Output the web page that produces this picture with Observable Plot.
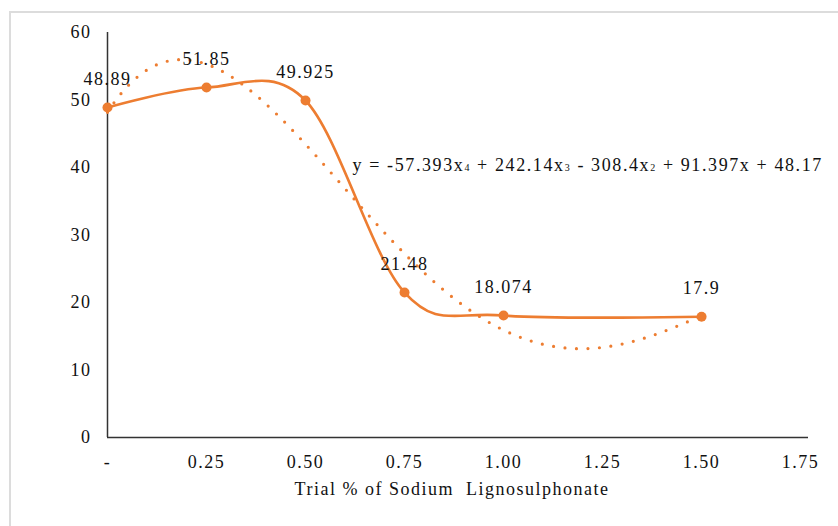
<!DOCTYPE html>
<html>
<head>
<meta charset="utf-8">
<script src="https://cdn.jsdelivr.net/npm/d3@7"></script>
<script src="https://cdn.jsdelivr.net/npm/@observablehq/plot@0.6"></script>
<style>
  html, body { margin: 0; padding: 0; background: #fff; overflow: hidden; }
  #page { position: relative; width: 838px; height: 526px; overflow: hidden; }
  #border { position: absolute; left: 9px; top: 11px; width: 900px; height: 600px;
            border: 2px solid #dcdcdc; box-sizing: border-box; }
  #chart { position: absolute; left: 0; top: 0; }
  #chart svg text, #chart svg tspan {
    font-family: "Liberation Serif", "Times New Roman", serif !important;
    letter-spacing: 1.5px;
  }
  #chart svg text.equation, #chart svg text.equation tspan { letter-spacing: 1.6px; }
</style>
</head>
<body>
<div id="page">
  <div id="border"></div>
  <div id="chart"></div>
</div>
<script>
// Dosage of sodium lignosulphonate (%) and measured response
const dosage = [0, 0.25, 0.50, 0.75, 1.00, 1.50];
const response = [48.89, 51.85, 49.925, 21.48, 18.074, 17.9];
const valueLabels = ["48.89", "51.85", "49.925", "21.48", "18.074", "17.9"];

// Axis ticks
const xTicks = [0, 0.25, 0.50, 0.75, 1.00, 1.25, 1.50, 1.75];
const yTicks = [0, 10, 20, 30, 40, 50, 60];

// 4th-order polynomial trendline coefficients, highest power first
const trendCoef = [-57.393, 242.14, -308.4, 91.397, 48.17];
const trendLabel = ["y = -57.393x", "4", " + 242.14x", "3", " - 308.4x", "2", " + 91.397x + 48.17"];

const xTitle = "Trial % of Sodium  Lignosulphonate";
const orange = "#ED7D31";
const ink = "#111";

const data = dosage.map((d, i) => ({x: d, y: response[i], label: valueLabels[i]}));

// Trendline sampled along the fitted range
const polyAt = x => trendCoef.reduce((acc, c) => acc * x + c, 0);
const trend = d3.range(0, 1.5001, 0.005).map(x => ({x, y: polyAt(x)}));

const chart = Plot.plot({
  width: 838,
  height: 526,
  marginLeft: 107,
  marginRight: 30,
  marginTop: 32,
  marginBottom: 89,
  style: {fontSize: "18px", color: ink, background: "transparent"},
  x: {domain: [0, 1.77]},
  y: {domain: [0, 60]},
  marks: [
    Plot.axisX({ticks: xTicks, tickFormat: d => d === 0 ? "-" : d.toFixed(2), tickSize: 0, tickPadding: 18, label: null, fontSize: 18}),
    Plot.axisY({ticks: yTicks, tickSize: 0, tickPadding: 16, label: null, fontSize: 18}),
    Plot.ruleX([0], {y1: 0, y2: 60, stroke: "#333", strokeWidth: 1.5}),
    Plot.ruleY([0], {x1: 0, x2: 1.77, stroke: "#333", strokeWidth: 1.5}),
    Plot.line(trend, {x: "x", y: "y", stroke: orange, strokeWidth: 3.2, strokeDasharray: "0,11.5", strokeLinecap: "round"}),
    Plot.line(data, {x: "x", y: "y", stroke: orange, strokeWidth: 2.6, curve: "cardinal"}),
    Plot.dot(data, {x: "x", y: "y", r: 5, fill: orange, stroke: "none"}),
    Plot.text(data, {x: "x", y: "y", text: "label", dy: -28, fontSize: 18, fill: ink}),
    Plot.text([xTitle], {frameAnchor: "bottom", dy: 57, dx: -6, fontSize: 18, fill: ink})
  ]
});

document.getElementById("chart").appendChild(chart);

// Trendline equation, with small lowered exponent digits
const sx = chart.scale("x"), sy = chart.scale("y");
const eq = d3.select(chart).append("text")
  .attr("class", "equation")
  .attr("x", sx.apply(0.62))
  .attr("y", sy.apply(40.3))
  .attr("dy", "0.35em")
  .attr("text-anchor", "start")
  .attr("font-size", 18)
  .attr("fill", ink);
trendLabel.forEach((t, i) => {
  eq.append("tspan").text(t).attr("font-size", i % 2 ? 10 : 18);
});
</script>
</body>
</html>
